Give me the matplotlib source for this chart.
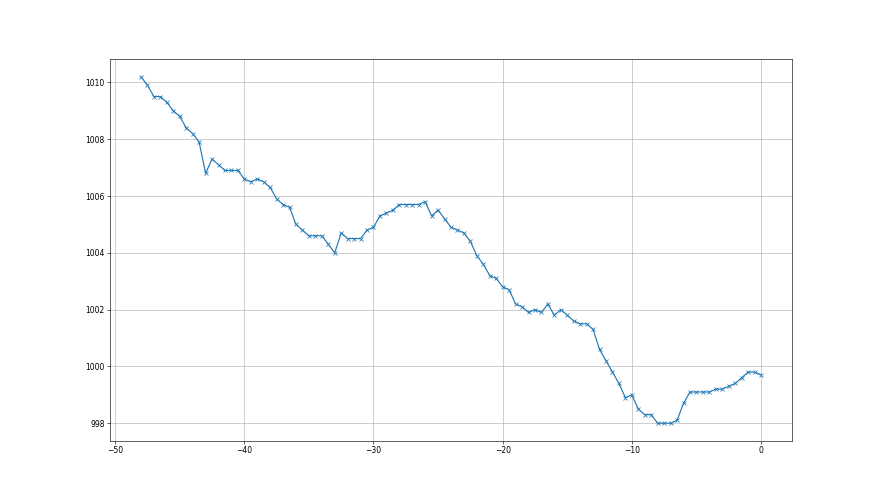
import numpy as np
import matplotlib
matplotlib.use("Agg")
import matplotlib.pyplot as plt

# time offsets (hours), half-hour steps
hours = np.arange(-48.0, 0.25, 0.5)

pressure = [
    1010.2, 1009.9, 1009.5, 1009.5, 1009.3, 1009.0, 1008.8, 1008.4, 1008.2, 1007.9,
    1006.8, 1007.3, 1007.1, 1006.9, 1006.9, 1006.9, 1006.6, 1006.5, 1006.6, 1006.5,
    1006.3, 1005.9, 1005.7, 1005.6, 1005.0, 1004.8, 1004.6, 1004.6, 1004.6, 1004.3,
    1004.0, 1004.7, 1004.5, 1004.5, 1004.5, 1004.8, 1004.9, 1005.3, 1005.4, 1005.5,
    1005.7, 1005.7, 1005.7, 1005.7, 1005.8, 1005.3, 1005.5, 1005.2, 1004.9, 1004.8,
    1004.7, 1004.4, 1003.9, 1003.6, 1003.2, 1003.1, 1002.8, 1002.7, 1002.2, 1002.1,
    1001.9, 1002.0, 1001.9, 1002.2, 1001.8, 1002.0, 1001.8, 1001.6, 1001.5, 1001.5,
    1001.3, 1000.6, 1000.2, 999.8, 999.4, 998.9, 999.0, 998.5, 998.3, 998.3,
    998.0, 998.0, 998.0, 998.1, 998.7, 999.1, 999.1, 999.1, 999.1, 999.2,
    999.2, 999.3, 999.4, 999.6, 999.8, 999.8, 999.7,
]

fig, ax = plt.subplots(figsize=(16, 9), dpi=55)
ax.plot(hours, pressure, marker="x", color="C0")
ax.grid(True)

fig.savefig("out.png", dpi=55)
plt.close(fig)
